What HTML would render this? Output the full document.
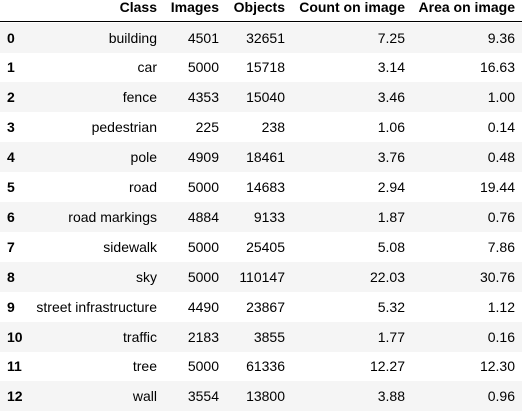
<!DOCTYPE html>
<html><head><meta charset="utf-8"><style>
body{margin:0;background:#fff;font-family:"Liberation Sans",Arial,sans-serif;font-size:14px;color:#000;}
.t{position:relative;width:522px;height:412px;overflow:hidden;}
.r{position:absolute;left:0;width:522px;height:30px;}
.r.s{background:#f5f5f5;}
.c{position:absolute;top:0;height:100%;line-height:31px;text-align:right;white-space:nowrap;}
.h .c{line-height:14px;top:0;font-weight:bold;}
.i{left:7px;text-align:left;font-weight:bold;}
</style></head><body>
<div class="t">
<div class="r h" style="top:0;height:21px;border-bottom:1px solid #000">
<div class="c" style="right:365px">Class</div>
<div class="c" style="right:303px">Images</div>
<div class="c" style="right:237px">Objects</div>
<div class="c" style="right:117px">Count on image</div>
<div class="c" style="right:7px">Area on image</div>
</div>
</div>
<script>
const classes=["building","car","fence","pedestrian","pole","road","road markings","sidewalk","sky","street infrastructure","traffic","tree","wall"];
const images=[4501,5000,4353,225,4909,5000,4884,5000,5000,4490,2183,5000,3554];
const objects=[32651,15718,15040,238,18461,14683,9133,25405,110147,23867,3855,61336,13800];
const counts=["7.25","3.14","3.46","1.06","3.76","2.94","1.87","5.08","22.03","5.32","1.77","12.27","3.88"];
const areas=["9.36","16.63","1.00","0.14","0.48","19.44","0.76","7.86","30.76","1.12","0.16","12.30","0.96"];
const t=document.querySelector('.t');
classes.forEach((cl,k)=>{
  const r=document.createElement('div');
  r.className='r'+(k%2===0?' s':'');
  r.style.top=(22.5+k*29.9)+'px';
  
  
  const cells=[['i',null,String(k)],['c','365px',cl],['c','303px',String(images[k])],['c','237px',String(objects[k])],['c','117px',counts[k]],['c','7px',areas[k]]];
  const names=['index','class','images','objects','count','area'];
  cells.forEach((cd,j)=>{
    const d=document.createElement('div');
    d.className='c'+(cd[0]==='i'?' i':'');
    if(cd[1])d.style.right=cd[1];
    d.textContent=cd[2];
    
    
    r.appendChild(d);
  });
  t.appendChild(r);
});
</script>
</body></html>
